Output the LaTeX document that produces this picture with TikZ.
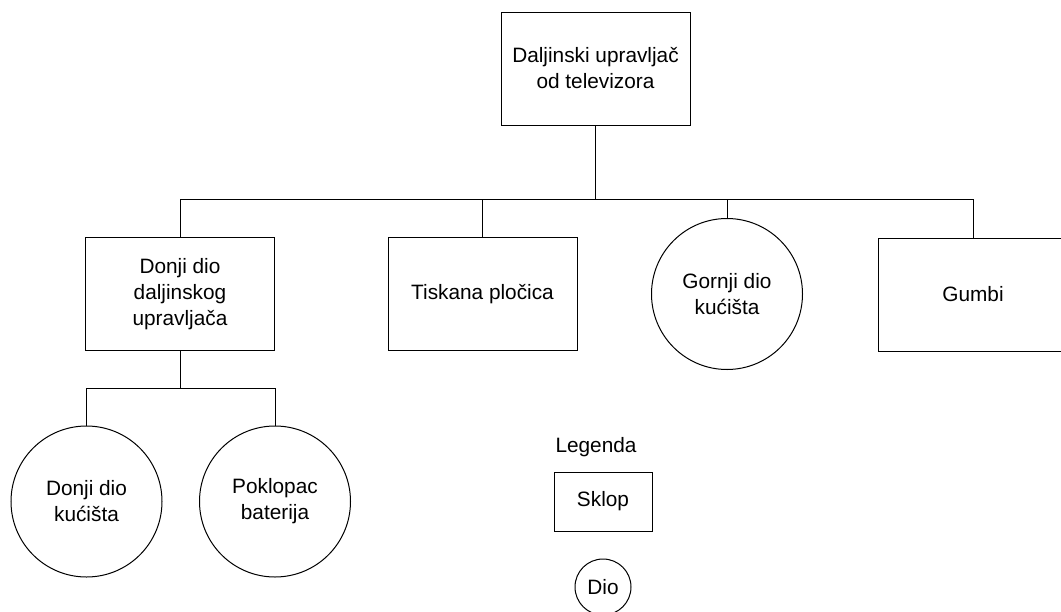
\documentclass[tikz,border=0pt]{standalone}
\usepackage{fontspec}
\setmainfont{Liberation Sans}

\tikzset{
  sklop/.style={draw, rectangle, minimum width=141.75pt, minimum height=84.75pt, align=center, inner sep=2pt},
  dio/.style={draw, circle, minimum size=113.25pt, align=center, inner sep=1pt},
  veza/.style={line width=.75pt}
}

\begin{document}
\begin{tikzpicture}[x=0.75pt, y=-0.75pt, line width=.75pt, font=\fontsize{15.6}{19.5}\selectfont]
   \useasboundingbox (0, 0) rectangle (1061, 611);

   \node [sklop] (dalj) at (595.5, 68.5) {Daljinski upravljač\\od televizora};

   % prva razina
   \node [sklop] (donji) at (180, 294) {Donji dio\\daljinskog\\upravljača};
   \node [sklop] (tisk) at (482.5, 294) {Tiskana pločica};
   \node [dio] (gornji) at (727, 294) {Gornji dio\\kućišta};
   \node [sklop] (gumbi) at (973, 294.5) {Gumbi};

   \coordinate (bus) at (595.5, 199);
   \draw [veza] (dalj) -- (bus);
   \draw [veza] (bus) -| (donji.north);
   \draw [veza] (bus) -| (tisk.north);
   \draw [veza] (bus) -| (gornji.north);
   \draw [veza] (bus) -| (gumbi.north);

   % druga razina
   \node [dio] (kuc) at (86.5, 501.5) {Donji dio\\kućišta};
   \node [dio] (pokl) at (275, 501.5) {Poklopac\\baterija};

   \coordinate (bus2) at (180, 388);
   \draw [veza] (donji) -- (bus2);
   \draw [veza] (bus2) -| (kuc.north);
   \draw [veza] (bus2) -| (pokl.north);

   % legenda
   \node [anchor=base west, inner sep=0pt] (leg) at (555, 452) {Legenda};
   \node [sklop, minimum width=73.5pt, minimum height=44.25pt] (lsklop) at (603, 501.5) {Sklop};
   \node [dio, minimum size=42pt] (ldio) at (603, 587) {Dio};

\end{tikzpicture}
\end{document}
